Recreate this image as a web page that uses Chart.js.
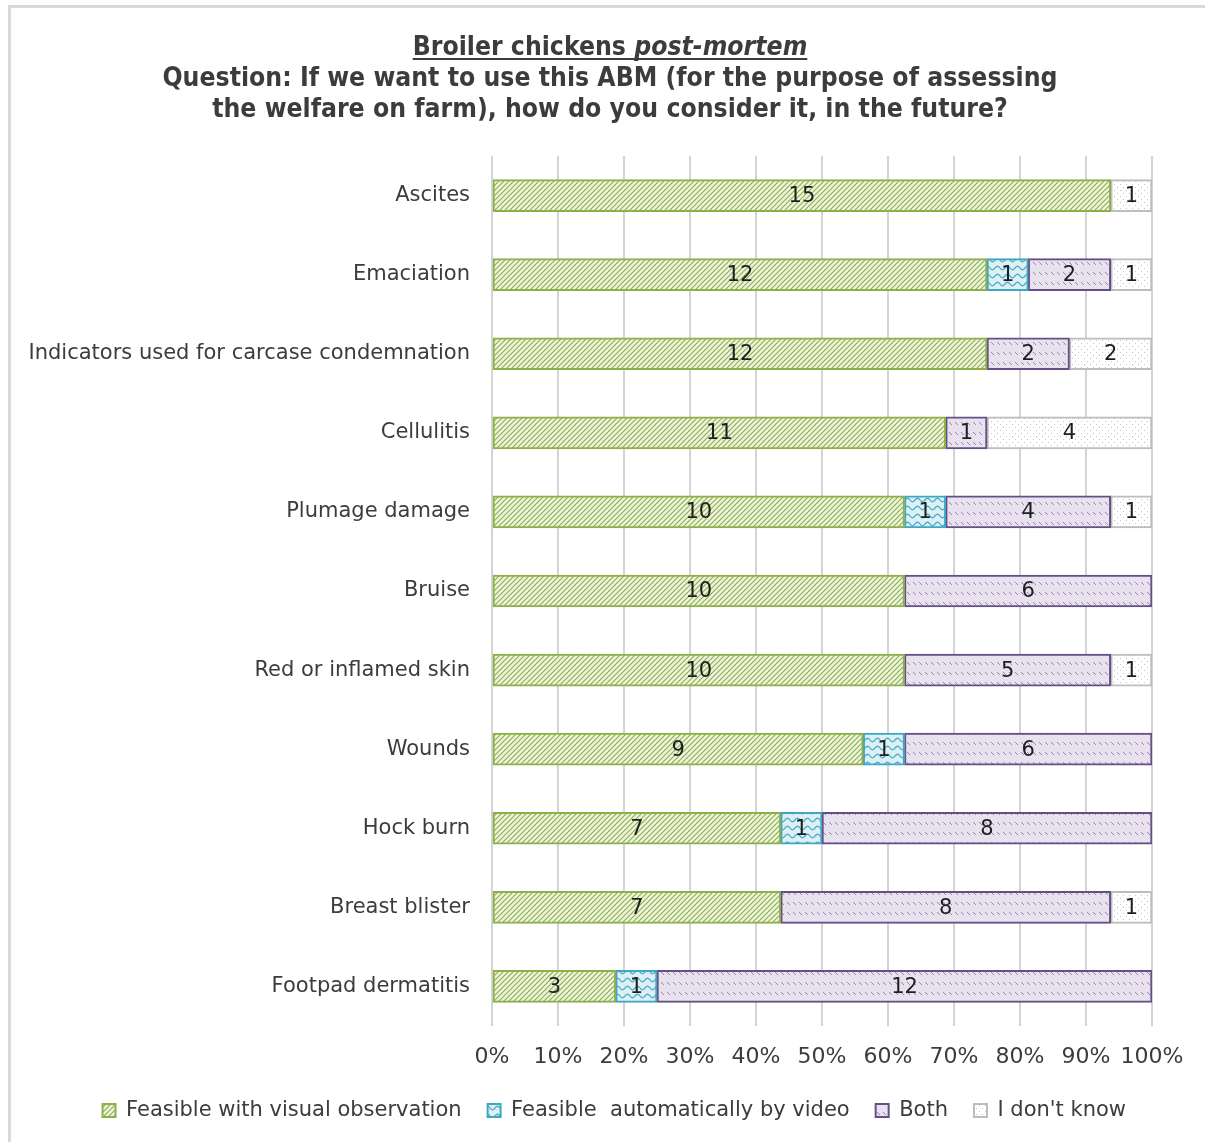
<!DOCTYPE html>
<html>
<head>
<meta charset="utf-8">
<script src="https://cdn.jsdelivr.net/npm/chart.js@4.4.0/dist/chart.umd.min.js"></script>
<style>
  html, body { margin: 0; padding: 0; background: #fff; }
  #wrap { width: 1205px; height: 1142px; position: relative; }
</style>
</head>
<body>
<div id="wrap"><canvas id="abmChart" width="1205" height="1142"></canvas></div>
<script>
// Categories and answer counts (16 respondents per measure)
const measures = [
    'Ascites',
    'Emaciation',
    'Indicators used for carcase condemnation',
    'Cellulitis',
    'Plumage damage',
    'Bruise',
    'Red or inflamed skin',
    'Wounds',
    'Hock burn',
    'Breast blister',
    'Footpad dermatitis'
];
const visualObs  = [15, 12, 12, 11, 10, 10, 10, 9, 7, 7, 3];
const byVideo    = [0, 1, 0, 0, 1, 0, 0, 1, 1, 0, 1];
const both       = [0, 2, 2, 1, 4, 6, 5, 6, 8, 8, 12];
const dontKnow   = [1, 1, 2, 4, 1, 0, 1, 0, 0, 1, 0];
const xTicks     = [0, 10, 20, 30, 40, 50, 60, 70, 80, 90, 100];

const seriesNames = ['Feasible with visual observation', 'Feasible  automatically by video', 'Both', "I don't know"];

const totals = measures.map((_, i) => visualObs[i] + byVideo[i] + both[i] + dontKnow[i]);
const toPct = arr => arr.map((v, i) => v / totals[i] * 100);

// --- fill patterns (Excel-style hatches) ---
function makePattern(w, h, bg, draw) {
    const c = document.createElement('canvas');
    c.width = w; c.height = h;
    const g = c.getContext('2d');
    g.fillStyle = bg;
    g.fillRect(0, 0, w, h);
    draw(g, w, h);
    return g.createPattern(c, 'repeat');
}

const greenHatch = makePattern(5, 5, '#eef5dc', (g, w, h) => {
    g.strokeStyle = '#8fb055';
    g.lineWidth = 1.2;
    g.beginPath();
    g.moveTo(0, h); g.lineTo(w, 0);
    g.moveTo(-1, 1); g.lineTo(1, -1);
    g.moveTo(w - 1, h + 1); g.lineTo(w + 1, h - 1);
    g.stroke();
});

const tealWave = makePattern(10, 8, '#dcf0f6', (g, w, h) => {
    g.strokeStyle = '#4bacc6';
    g.lineWidth = 1.3;
    g.beginPath();
    for (let x = 0; x <= w; x += 0.5) {
        const y = 4 + 1.8 * Math.sin(x / w * Math.PI * 2);
        if (x === 0) g.moveTo(x, y); else g.lineTo(x, y);
    }
    g.stroke();
});

const purpleDash = makePattern(6, 10, '#e7e2ee', (g) => {
    g.strokeStyle = '#9884b4';
    g.lineWidth = 1;
    g.beginPath();
    g.moveTo(1, 2); g.lineTo(4, 5);
    g.stroke();
});

const greyDots = makePattern(6, 6, '#ffffff', (g) => {
    g.fillStyle = '#c4c4c4';
    g.fillRect(1, 1, 1, 1);
    g.fillRect(4, 4, 1, 1);
});

const textColor = '#3c3c3c';
const baseFont = '"DejaVu Sans", Verdana, sans-serif';

// outer frame + title (mixed underline / italic, so drawn by hand)
const frameAndTitle = {
    id: 'frameAndTitle',
    beforeDraw(chart) {
        const ctx = chart.ctx;
        ctx.save();
        ctx.fillStyle = '#fff';
        ctx.fillRect(0, 0, chart.width, chart.height);
        ctx.strokeStyle = '#d9d9d9';
        ctx.lineWidth = 3;
        ctx.strokeRect(9.5, 6.5, chart.width + 20, chart.height + 20);
        ctx.restore();
    },
    afterDraw(chart) {
        const ctx = chart.ctx;
        const cx = 610;
        const fam = '"DejaVu Sans Condensed", "DejaVu Sans", sans-serif';
        const size = 27;
        ctx.save();
        ctx.fillStyle = textColor;
        ctx.strokeStyle = textColor;
        ctx.textBaseline = 'alphabetic';

        const line2 = 'Question: If we want to use this ABM (for the purpose of assessing';
        const line3 = 'the welfare on farm), how do you consider it, in the future?';
        ctx.font = `bold ${size}px ${fam}`;
        const sx = 895 / ctx.measureText(line2).width;

        // line 1: "Broiler chickens " + italic "post-mortem", underlined
        const partA = 'Broiler chickens ';
        const partB = 'post-mortem';
        const wA = ctx.measureText(partA).width;
        ctx.font = `italic bold ${size}px ${fam}`;
        const wB = ctx.measureText(partB).width;
        const total = (wA + wB) * sx;
        const x0 = cx - total / 2;

        ctx.save();
        ctx.translate(x0, 55);
        ctx.scale(sx, 1);
        ctx.textAlign = 'left';
        ctx.font = `bold ${size}px ${fam}`;
        ctx.fillText(partA, 0, 0);
        ctx.font = `italic bold ${size}px ${fam}`;
        ctx.fillText(partB, wA, 0);
        ctx.restore();
        ctx.lineWidth = 2;
        ctx.beginPath();
        ctx.moveTo(x0, 59);
        ctx.lineTo(x0 + total, 59);
        ctx.stroke();

        ctx.font = `bold ${size}px ${fam}`;
        ctx.textAlign = 'center';
        [[line2, 86], [line3, 117]].forEach(([t, y]) => {
            ctx.save();
            ctx.translate(cx, y);
            ctx.scale(sx, 1);
            ctx.fillText(t, 0, 0);
            ctx.restore();
        });
        ctx.restore();
    }
};

// count labels centred in each segment
const countLabels = {
    id: 'countLabels',
    afterDatasetsDraw(chart) {
        const ctx = chart.ctx;
        ctx.save();
        ctx.font = '21px ' + baseFont;
        ctx.fillStyle = '#1e1e1e';
        ctx.textAlign = 'center';
        ctx.textBaseline = 'middle';
        chart.data.datasets.forEach((ds, di) => {
            const meta = chart.getDatasetMeta(di);
            meta.data.forEach((bar, i) => {
                const n = ds.counts[i];
                if (!n) return;
                const c = bar.getCenterPoint();
                ctx.fillText(String(n), c.x, c.y + 1);
            });
        });
        ctx.restore();
    }
};

const ctx = document.getElementById('abmChart');

new Chart(ctx, {
    type: 'bar',
    data: {
        labels: measures,
        datasets: [
            { label: seriesNames[0], counts: visualObs, data: toPct(visualObs), backgroundColor: greenHatch, borderColor: '#8db04c' },
            { label: seriesNames[1], counts: byVideo,   data: toPct(byVideo),   backgroundColor: tealWave,   borderColor: '#41a6c2' },
            { label: seriesNames[2], counts: both,      data: toPct(both),      backgroundColor: purpleDash, borderColor: '#664f86' },
            { label: seriesNames[3], counts: dontKnow,  data: toPct(dontKnow),  backgroundColor: greyDots,   borderColor: '#bdbdbd' }
        ].map(d => Object.assign(d, { borderWidth: 2, borderSkipped: false, barThickness: 32 }))
    },
    options: {
        indexAxis: 'y',
        responsive: false,
        animation: false,
        layout: { padding: { top: 156, left: 20, right: 53, bottom: 11 } },
        scales: {
            x: {
                stacked: true,
                min: 0,
                max: 100,
                afterBuildTicks: scale => { scale.ticks = xTicks.map(v => ({ value: v })); },
                afterFit: scale => { scale.height = 48; },
                grid: { color: '#d4d4d4', lineWidth: 2, drawTicks: false },
                border: { display: false },
                ticks: {
                    padding: 18,
                    color: textColor,
                    font: { size: 22, family: baseFont },
                    maxRotation: 0,
                    callback: v => v + '%'
                }
            },
            y: {
                stacked: true,
                afterFit: scale => { scale.width = 472; },
                grid: { display: false, drawTicks: false },
                border: { display: false },
                ticks: {
                    padding: 22,
                    color: textColor,
                    font: { size: 21, family: baseFont }
                }
            }
        },
        plugins: {
            legend: {
                position: 'bottom',
                align: 'end',
                labels: {
                    boxWidth: 13,
                    boxHeight: 13,
                    padding: 26,
                    color: textColor,
                    font: { size: 21, family: baseFont }
                }
            },
            tooltip: { enabled: false }
        }
    },
    plugins: [frameAndTitle, countLabels]
});
</script>
</body>
</html>
